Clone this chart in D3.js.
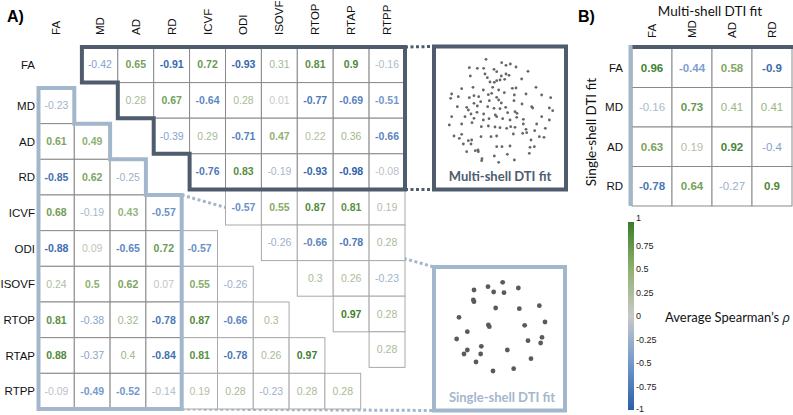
<!DOCTYPE html>
<html><head><meta charset="utf-8">
<script src="https://cdn.jsdelivr.net/npm/d3@7"></script>
<style>body{margin:0;background:#fff}svg{display:block}</style>
</head><body><svg id="c" width="793" height="415"></svg>
<script>
// ---------- DATA ----------
const measures = ["FA","MD","AD","RD","ICVF","ODI","ISOVF","RTOP","RTAP","RTPP"];
// upper triangle (multi-shell): row i, columns j>i
const upperVals = [
  [-0.42,0.65,-0.91,0.72,-0.93,0.31,0.81,0.9,-0.16],
  [0.28,0.67,-0.64,0.28,0.01,-0.77,-0.69,-0.51],
  [-0.39,0.29,-0.71,0.47,0.22,0.36,-0.66],
  [-0.76,0.83,-0.19,-0.93,-0.98,-0.08],
  [-0.57,0.55,0.87,0.81,0.19],
  [-0.26,-0.66,-0.78,0.28],
  [0.3,0.26,-0.23],
  [0.97,0.28],
  [0.28]
];
// lower triangle (single-shell): row i (1..9), columns j<i
const lowerVals = [
  [],
  [-0.23],
  [0.61,0.49],
  [-0.85,0.62,-0.25],
  [0.68,-0.19,0.43,-0.57],
  [-0.88,0.09,-0.65,0.72,-0.57],
  [0.24,0.5,0.62,0.07,0.55,-0.26],
  [0.81,-0.38,0.32,-0.78,0.87,-0.66,0.3],
  [0.88,-0.37,0.4,-0.84,0.81,-0.78,0.26,0.97],
  [-0.09,-0.49,-0.52,-0.14,0.19,0.28,-0.23,0.28,0.28]
];
const dtiMeasures = ["FA","MD","AD","RD"];
// panel B: rows = single-shell, cols = multi-shell
const crossVals = [
  [0.96,-0.44,0.58,-0.9],
  [-0.16,0.73,0.41,0.41],
  [0.63,0.19,0.92,-0.4],
  [-0.78,0.64,-0.27,0.9]
];
const colorTicks = [1,0.75,0.5,0.25,0,-0.25,-0.5,-0.75,-1];
// illustrative scatter (arbitrary units)
const multiDots = [[258,178],[305,188],[318,196],[331,192],[208,203],[232,205],[251,205],[282,208],[348,201],[384,214],
[211,228],[255,222],[262,233],[290,215],[318,222],[327,226],[304,228],[365,237],[300,240],[270,246],[283,247],[290,242],[314,238],
[185,266],[219,262],[250,270],[278,262],[296,270],[337,265],[348,264],[408,262],
[155,282],[175,290],[152,295],[208,293],[222,287],[236,290],[265,284],[275,280],[290,292],[313,278],[343,285],[378,282],[425,285],[452,293],
[172,320],[200,322],[222,310],[242,305],[268,302],[296,300],[304,309],[342,302],[366,312],[395,320],[448,324],[458,332],
[205,330],[232,318],[263,320],[282,325],[300,326],[317,322],[345,335],[351,340],[398,324],[213,342],[231,337],[251,342],[286,345],[323,338],
[155,350],[195,350],[222,355],[250,360],[267,356],[290,350],[308,356],[330,360],[350,352],[370,358],[425,350],[448,360],
[148,375],[185,372],[216,368],[244,380],[265,378],[285,381],[300,383],[320,385],[332,380],[345,382],[370,372],[378,388],[410,372],[404,392],[436,385],
[162,408],[185,403],[178,415],[205,422],[215,420],[243,410],[273,410],[290,408],[340,402],[368,400],[380,398],[393,420],[418,410],[432,412],
[190,432],[213,432],[234,450],[226,452],[290,440],[306,440],[330,438],[390,442],[403,440],
[200,455],[235,455],[283,468],[322,463],[388,460],[246,476],[245,482],[296,487],[343,480]];
const singleDots = [[222,270],[264,260],[281,276],[308,247],[312,278],[355,264],[220,300],[222,305],[287,324],[358,326],[418,317],
[177,352],[265,375],[268,380],[374,376],[435,366],[202,395],[170,417],[384,422],[426,412],[422,429],[244,439],[202,450],[192,462],
[242,462],[322,450],[393,476],[228,486],[279,513],[341,506]];

// ---------- STYLE ----------
const DARK = "#4e5c6e", LIGHT = "#a3b7cc";
const sans = "'Liberation Sans', Arial, sans-serif";
const hum = "Lato, 'Open Sans', sans-serif";
const color = d3.scaleLinear().domain([-1,-0.5,0,0.5,1])
  .range(["#2b5ea7","#7399cc","#c9c9c9","#8fb070","#3b7d2b"]);
const fmt = v => String(v);
const weight = v => Math.abs(v) > 0.42 ? "bold" : "normal";

const svg = d3.select("#c");

// scales: lower (single-shell) grid, upper (multi-shell) grid
const xL = d3.scaleBand().domain(measures).range([38.5, 38.5 + 35.8*10]);
const yL = d3.scaleBand().domain(measures).range([52.3, 52.3 + 35.67*10]);
const xU = d3.scaleBand().domain(measures).range([46, 46 + 35.9*10]);
const yU = d3.scaleBand().domain(measures).range([47, 47 + 35.6*10]);
const edgeX = (s,k) => k < measures.length ? s(measures[k]) : s.range()[1];
const edgeY = edgeX;

// Panel label
svg.append("text").attr("x",7).attr("y",22).text("A)")
  .attr("font-family",sans).attr("font-weight","bold").attr("font-size",16);
svg.append("text").attr("x",578).attr("y",22).text("B)")
  .attr("font-family",sans).attr("font-weight","bold").attr("font-size",16);

// connectors (behind cells)
const conn = svg.append("g").attr("fill","none").attr("stroke-width",3).attr("stroke-dasharray","3,2.5");
const darkInset = {x0:434,y0:46.5,x1:566,y1:189.5};
const lightInset = {x0:434,y0:267,x1:565,y1:410.5};
conn.append("line").attr("x1",xU.range()[1]).attr("y1",yU.range()[0]).attr("x2",darkInset.x0).attr("y2",darkInset.y0).attr("stroke",DARK);
conn.append("line").attr("x1",xU.range()[1]).attr("y1",edgeY(yU,4)).attr("x2",darkInset.x0).attr("y2",darkInset.y1).attr("stroke",DARK);
conn.append("line").attr("x1",edgeX(xL,4)).attr("y1",edgeY(yL,4)).attr("x2",lightInset.x0).attr("y2",lightInset.y0).attr("stroke",LIGHT);
conn.append("line").attr("x1",edgeX(xL,4)).attr("y1",yL.range()[1]).attr("x2",lightInset.x0).attr("y2",lightInset.y1).attr("stroke",LIGHT);

// cells
function cell(g, x, y, w, h, v, inside, fs){
  g.append("rect").attr("x",x).attr("y",y).attr("width",w).attr("height",h)
    .attr("fill","#fff").attr("stroke", inside ? "#8a8a8a" : "#a9a9a9").attr("stroke-width",1);
  g.append("text").attr("x",x+w/2).attr("y",y+h/2).attr("dy","0.35em")
    .attr("text-anchor","middle").attr("font-family",sans).attr("font-size",fs)
    .attr("font-weight",weight(v)).attr("fill",color(v)).text(fmt(v));
}
const cells = svg.append("g");
upperVals.forEach((row,i)=>row.forEach((v,k)=>{
  const j = i+1+k;
  cell(cells, xU(measures[j]), yU(measures[i]), xU.bandwidth(), yU.bandwidth(), v, i<4, 10.5);
}));
lowerVals.forEach((row,i)=>row.forEach((v,j)=>{
  cell(cells, xL(measures[j]), yL(measures[i]), xL.bandwidth(), yL.bandwidth(), v, j<4, 10.5);
}));

// box outlines
const ux = k=>edgeX(xU,k), uy = k=>edgeY(yU,k), lx = k=>edgeX(xL,k), ly = k=>edgeY(yL,k);
const darkPts = [[ux(1),uy(0)],[ux(10),uy(0)],[ux(10),uy(4)],[ux(4),uy(4)],[ux(4),uy(3)],[ux(3),uy(3)],
  [ux(3),uy(2)],[ux(2),uy(2)],[ux(2),uy(1)],[ux(1),uy(1)]];
const lightPts = [[lx(0),ly(1)],[lx(1),ly(1)],[lx(1),ly(2)],[lx(2),ly(2)],[lx(2),ly(3)],[lx(3),ly(3)],
  [lx(3),ly(4)],[lx(4),ly(4)],[lx(4),ly(10)],[lx(0),ly(10)]];
svg.append("path").attr("d",d3.line()(darkPts)+"Z").attr("fill","none").attr("stroke",DARK).attr("stroke-width",4).attr("stroke-linejoin","miter");
svg.append("path").attr("d",d3.line()(lightPts)+"Z").attr("fill","none").attr("stroke",LIGHT).attr("stroke-width",4).attr("stroke-linejoin","miter");

// axis labels panel A
const colLab = svg.append("g").attr("font-family",sans).attr("font-size",11.5).attr("fill","#111");
measures.forEach((m,k)=>{
  const cx = k===0 ? xL(m)+xL.bandwidth()/2 : xU(m)+xU.bandwidth()/2;
  colLab.append("text").attr("transform",`translate(${cx+4},35) rotate(-90)`).text(m);
  const cy = k===0 ? yU(m)+yU.bandwidth()/2 : yL(m)+yL.bandwidth()/2;
  colLab.append("text").attr("x",35).attr("y",cy).attr("dy","0.35em").attr("text-anchor","end").text(m);
});

// insets
svg.append("rect").attr("x",darkInset.x0).attr("y",darkInset.y0).attr("width",darkInset.x1-darkInset.x0)
  .attr("height",darkInset.y1-darkInset.y0).attr("fill","#fff").attr("stroke",DARK).attr("stroke-width",4);
svg.append("rect").attr("x",lightInset.x0).attr("y",lightInset.y0).attr("width",lightInset.x1-lightInset.x0)
  .attr("height",lightInset.y1-lightInset.y0).attr("fill","#fff").attr("stroke",LIGHT).attr("stroke-width",4);
const dx = d3.scaleLinear().domain([0,600]).range([400,600]);
const dyM = d3.scaleLinear().domain([0,600]).range([0,200]);
const dyS = d3.scaleLinear().domain([0,600]).range([200,400]);
svg.append("g").selectAll("circle").data(multiDots).join("circle")
  .attr("cx",d=>dx(d[0])).attr("cy",d=>dyM(d[1])).attr("r",1.4).attr("fill","#666");
svg.append("g").selectAll("circle").data(singleDots).join("circle")
  .attr("cx",d=>dx(d[0])).attr("cy",d=>dyS(d[1])).attr("r",2.4).attr("fill","#5a5a5a");
svg.append("text").attr("x",500).attr("y",181).attr("text-anchor","middle").attr("font-family",hum)
  .attr("font-weight","bold").attr("font-size",13).attr("fill",DARK).text("Multi-shell DTI fit");
svg.append("text").attr("x",502).attr("y",402).attr("text-anchor","middle").attr("font-family",hum)
  .attr("font-weight","bold").attr("font-size",13).attr("fill",LIGHT).text("Single-shell DTI fit");

// ---------- Panel B ----------
const xB = d3.scaleBand().domain(dtiMeasures).range([632, 792]);
const yB = d3.scaleBand().domain(dtiMeasures).range([48, 206]);
const gB = svg.append("g");
crossVals.forEach((row,i)=>row.forEach((v,j)=>{
  cell(gB, xB(dtiMeasures[j]), yB(dtiMeasures[i]), xB.bandwidth(), yB.bandwidth(), v, true, 11.5);
}));
svg.append("line").attr("x1",630).attr("x2",793).attr("y1",47).attr("y2",47).attr("stroke",DARK).attr("stroke-width",4);
svg.append("line").attr("x1",630.5).attr("x2",630.5).attr("y1",45).attr("y2",206).attr("stroke",LIGHT).attr("stroke-width",4);
const labB = svg.append("g").attr("font-family",sans).attr("font-size",11.5).attr("fill","#111");
dtiMeasures.forEach(m=>{
  labB.append("text").attr("transform",`translate(${xB(m)+xB.bandwidth()/2+4},38) rotate(-90)`).text(m);
  labB.append("text").attr("x",623).attr("y",yB(m)+yB.bandwidth()/2).attr("dy","0.35em").attr("text-anchor","end").text(m);
});
svg.append("text").attr("x",710).attr("y",16).attr("text-anchor","middle").attr("font-family",hum)
  .attr("font-size",13.5).attr("fill","#111").text("Multi-shell DTI fit");
svg.append("text").attr("transform","translate(596,132) rotate(-90)").attr("text-anchor","middle").attr("font-family",hum)
  .attr("font-size",13.5).attr("fill","#111").text("Single-shell DTI fit");

// colorbar
const cb = d3.scaleLinear().domain([1,-1]).range([222,410]);
const grad = svg.append("defs").append("linearGradient").attr("id","cbg").attr("x1",0).attr("x2",0).attr("y1",0).attr("y2",1);
d3.range(0,1.0001,0.05).forEach(t=>grad.append("stop").attr("offset",t).attr("stop-color",color(1-2*t)));
svg.append("rect").attr("x",628).attr("y",cb(1)).attr("width",6).attr("height",cb(-1)-cb(1)).attr("fill","url(#cbg)");
svg.append("g").attr("font-family",sans).attr("font-size",9).attr("fill","#222")
  .selectAll("text").data(colorTicks).join("text")
  .attr("x",636).attr("y",d=>cb(d)).attr("dy",d=>d===1?"-0.1em":(d===-1?"0.25em":"0.35em")).text(fmt);
const leg = svg.append("text").attr("x",665).attr("y",317).attr("dy","0.35em").attr("font-family",hum)
  .attr("font-size",13).attr("fill","#111");
leg.append("tspan").text("Average Spearman’s ");
leg.append("tspan").attr("font-family","'Open Sans', 'DejaVu Sans', sans-serif").attr("font-style","italic").text("ρ");
</script></body></html>
